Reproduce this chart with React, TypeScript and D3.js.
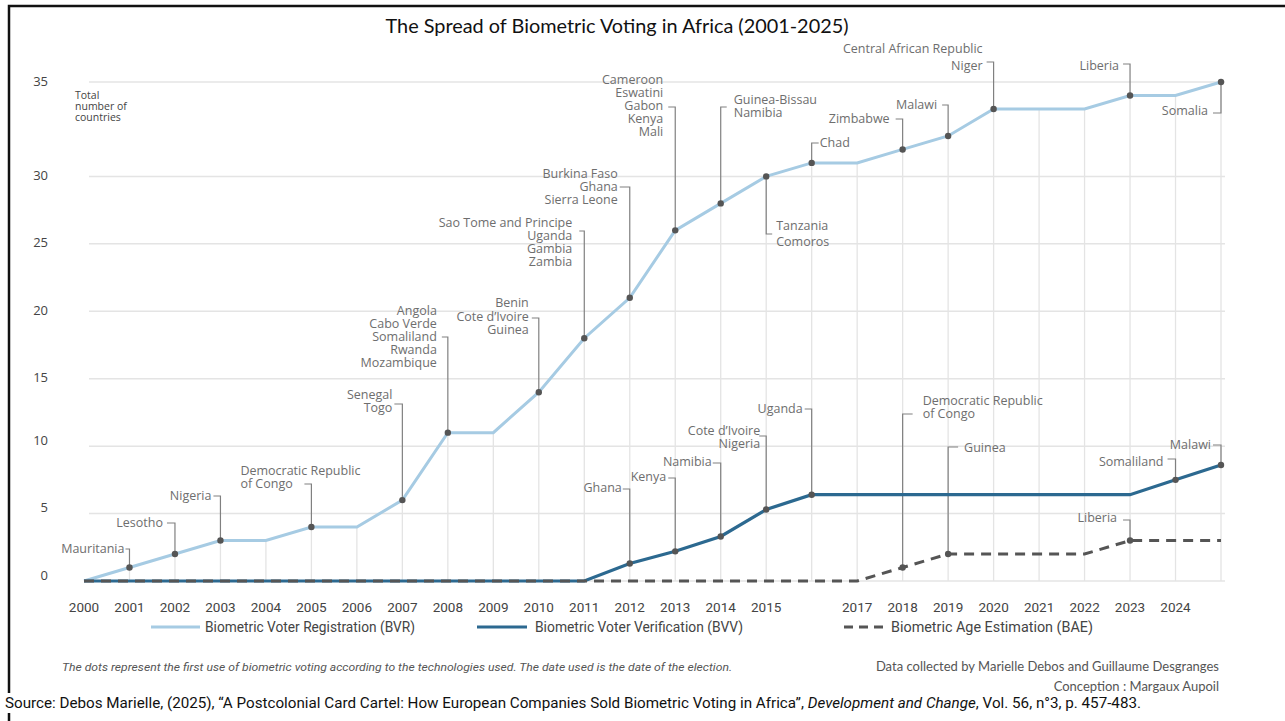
import React from 'react';
import * as d3 from 'd3';

// values
const years = [
  2000, 2001, 2002, 2003, 2004, 2005, 2006, 2007, 2008, 2009, 2010, 2011, 2012,
  2013, 2014, 2015, 2016, 2017, 2018, 2019, 2020, 2021, 2022, 2023, 2024, 2025,
];
const bvrCounts = [0, 1, 2, 3, 3, 4, 4, 6, 11, 11, 14, 18, 21, 26, 28, 30, 31, 31, 32, 33, 35, 35, 35, 36, 36, 37];
const bvvCounts = [0, 0, 0, 0, 0, 0, 0, 0, 0, 0, 0, 0, 1.3, 2.2, 3.3, 5.3, 6.4, 6.4, 6.4, 6.4, 6.4, 6.4, 6.4, 6.4, 7.5, 8.6];
const baeCounts = [0, 0, 0, 0, 0, 0, 0, 0, 0, 0, 0, 0, 0, 0, 0, 0, 0, 0, 1, 2, 2, 2, 2, 3, 3, 3];

const xTickYears = [2000, 2001, 2002, 2003, 2004, 2005, 2006, 2007, 2008, 2009, 2010, 2011, 2012, 2013, 2014, 2015, 2017, 2018, 2019, 2020, 2021, 2022, 2023, 2024];
const yTickValues = [0, 5, 10, 15, 20, 25, 30, 37];
const yTickLabels = ['0', '5', '10', '15', '20', '25', '30', '35'];

const bvrEvents: [number, string[]][] = [
  [2001, ['Mauritania']],
  [2002, ['Lesotho']],
  [2003, ['Nigeria']],
  [2005, ['Democratic Republic', 'of Congo']],
  [2007, ['Senegal', 'Togo']],
  [2008, ['Angola', 'Cabo Verde', 'Somaliland', 'Rwanda', 'Mozambique']],
  [2010, ['Benin', 'Cote d\u2019Ivoire', 'Guinea']],
  [2011, ['Sao Tome and Principe', 'Uganda', 'Gambia', 'Zambia']],
  [2012, ['Burkina Faso', 'Ghana', 'Sierra Leone']],
  [2013, ['Cameroon', 'Eswatini', 'Gabon', 'Kenya', 'Mali']],
  [2014, ['Guinea-Bissau', 'Namibia']],
  [2015, ['Tanzania', 'Comoros']],
  [2016, ['Chad']],
  [2018, ['Zimbabwe']],
  [2019, ['Malawi']],
  [2020, ['Central African Republic', 'Niger']],
  [2023, ['Liberia']],
  [2025, ['Somalia']],
];
const bvvEvents: [number, string[]][] = [
  [2012, ['Ghana']],
  [2013, ['Kenya']],
  [2014, ['Namibia']],
  [2015, ['Cote d\u2019Ivoire', 'Nigeria']],
  [2016, ['Uganda']],
  [2024, ['Somaliland']],
  [2025, ['Malawi']],
];
const baeEvents: [number, string[]][] = [
  [2018, ['Democratic Republic', 'of Congo']],
  [2019, ['Guinea']],
  [2023, ['Liberia']],
];

// callout placement: elbow y, bracket length, text offset + anchor, first line y, line height
type Place = { ey: number; hx: number; tx: number; ty: number; lh?: number; anchor?: 'start' | 'end' };
const placeBVR: Record<number, Place> = {
  2001: { ey: 549, hx: -4, tx: -5, ty: 549 },
  2002: { ey: 523, hx: -8, tx: -12, ty: 523 },
  2003: { ey: 496, hx: -7, tx: -9, ty: 496 },
  2005: { ey: 484, hx: -7, tx: -71, ty: 471, anchor: 'start' },
  2007: { ey: 404, hx: -8, tx: -10, ty: 395 },
  2008: { ey: 337, hx: -6, tx: -11, ty: 311, lh: 12.8 },
  2010: { ey: 318, hx: -7, tx: -10, ty: 303, lh: 13.5 },
  2011: { ey: 231, hx: -5, tx: -12, ty: 223 },
  2012: { ey: 187, hx: -10, tx: -12, ty: 174, lh: 12.8 },
  2013: { ey: 107, hx: -7, tx: -12, ty: 80 },
  2014: { ey: 107, hx: 6, tx: 13, ty: 100 },
  2015: { ey: 234, hx: 6, tx: 10, ty: 226, lh: 16 },
  2016: { ey: 143, hx: 7, tx: 8, ty: 143 },
  2018: { ey: 119, hx: -7, tx: -13, ty: 119 },
  2019: { ey: 105, hx: -6, tx: -11, ty: 105 },
  2020: { ey: 62, hx: -7, tx: -11, ty: 49, lh: 17 },
  2023: { ey: 64, hx: -7, tx: -11, ty: 66 },
  2025: { ey: 113, hx: -8, tx: -13, ty: 111 },
};
const placeBVV: Record<number, Place> = {
  2012: { ey: 489, hx: -7, tx: -8, ty: 488 },
  2013: { ey: 478, hx: -7, tx: -9, ty: 477 },
  2014: { ey: 463, hx: -8, tx: -9, ty: 462 },
  2015: { ey: 436, hx: -7, tx: -6, ty: 431, lh: 12.8 },
  2016: { ey: 409, hx: -7, tx: -9, ty: 409 },
  2024: { ey: 459, hx: -8, tx: -12, ty: 462 },
  2025: { ey: 445, hx: -8, tx: -10, ty: 445 },
};
const placeBAE: Record<number, Place> = {
  2018: { ey: 414, hx: 10, tx: 20, ty: 401, lh: 12.5 },
  2019: { ey: 447, hx: 10, tx: 16, ty: 448 },
  2023: { ey: 520, hx: -7, tx: -13, ty: 518 },
};

const W = 1285;
const H = 721;
const BVR_COLOR = '#a6cbe3';
const BVV_COLOR = '#2c6990';
const BAE_COLOR = '#555555';
const DOT_COLOR = '#555555';
const LABEL_FONT = "'Open Sans', 'Noto Sans', sans-serif";
const NARROW_FONT = "Roboto, 'Liberation Sans', sans-serif";

const x = d3.scaleLinear().domain([2000, 2025]).range([84, 1221]);
const y = d3.scaleLinear().domain([0, 37]).range([581, 82]);

const lineGen = d3
  .line<number>()
  .x((_, i) => x(years[i]))
  .y((d) => y(d));

function Callouts({ events, values, place }: { events: [number, string[]][]; values: number[]; place: Record<number, Place> }) {
  return (
    <g>
      {events.map(([yr, names]) => {
        const p = place[yr];
        const cx = x(yr);
        const cy = y(values[years.indexOf(yr)]);
        const lh = p.lh ?? 13;
        const anchor = p.anchor ?? (p.tx < 0 ? 'end' : 'start');
        return (
          <g key={yr}>
            <polyline
              points={`${cx},${cy} ${cx},${p.ey} ${cx + p.hx},${p.ey}`}
              fill="none"
              stroke="#808080"
              strokeWidth={1.2}
            />
            {names.map((n, i) => (
              <text
                key={n}
                x={cx + p.tx}
                y={p.ty + i * lh}
                dy="0.35em"
                textAnchor={anchor}
                fontFamily={LABEL_FONT}
                fontSize={12.5}
                fill="#6e6e6e"
              >
                {n}
              </text>
            ))}
          </g>
        );
      })}
    </g>
  );
}

function Dots({ events, values }: { events: [number, string[]][]; values: number[] }) {
  return (
    <g>
      {events.map(([yr]) => (
        <circle key={yr} cx={x(yr)} cy={y(values[years.indexOf(yr)])} r={3.2} fill={DOT_COLOR} />
      ))}
    </g>
  );
}

export default function App() {
  const [x0, x1] = x.range();
  return (
    <svg width={W} height={H} style={{ position: 'absolute', left: 0, top: 0, background: '#fff' }}>
      <rect x={0} y={0} width={W} height={H} fill="#fff" />
      <rect x={9} y={6} width={W + 20} height={H + 20} fill="none" stroke="#111" strokeWidth={2.5} />

      <text x={617} y={26} dy="0.35em" textAnchor="middle" fontFamily="Lato, 'Open Sans', sans-serif" fontSize={20} fill="#111" textLength={463} lengthAdjust="spacingAndGlyphs">
        The Spread of Biometric Voting in Africa (2001-2025)
      </text>

      {/* horizontal gridlines */}
      {yTickValues.map((v) => (
        <line key={v} x1={v === 0 ? x0 : x0 + 5} x2={x1 + 4} y1={y(v)} y2={y(v)} stroke="#e4e4e4" strokeWidth={1.5} />
      ))}
      {/* drop lines under the BVR curve */}
      {years.slice(1).map((yr, i) => (
        <line key={yr} x1={x(yr)} x2={x(yr)} y1={y(bvrCounts[i + 1])} y2={y(0)} stroke="#e4e4e4" strokeWidth={1.3} />
      ))}

      {/* y axis labels (the lower ones sit a little above their gridline) */}
      {yTickValues.map((v, i) => (
        <text key={v} x={48} y={y(v) - (v <= 10 ? 6 : 1)} dy="0.35em" textAnchor="end" fontFamily={LABEL_FONT} fontSize={13} fill="#444">
          {yTickLabels[i]}
        </text>
      ))}
      {['Total', 'number of', 'countries'].map((t, i) => (
        <text key={t} x={75} y={95 + i * 11} dy="0.35em" fontFamily={LABEL_FONT} fontSize={10.5} fill="#444">
          {t}
        </text>
      ))}

      {/* x axis labels */}
      {xTickYears.map((yr) => (
        <text key={yr} x={x(yr)} y={607} dy="0.35em" textAnchor="middle" fontFamily={NARROW_FONT} fontSize={13.5} fill="#444">
          {yr}
        </text>
      ))}

      <Callouts events={bvrEvents} values={bvrCounts} place={placeBVR} />
      <Callouts events={bvvEvents} values={bvvCounts} place={placeBVV} />
      <Callouts events={baeEvents} values={baeCounts} place={placeBAE} />

      <path d={lineGen(bvrCounts) ?? ''} fill="none" stroke={BVR_COLOR} strokeWidth={3} />
      <path d={lineGen(bvvCounts) ?? ''} fill="none" stroke={BVV_COLOR} strokeWidth={3.2} />
      <path d={lineGen(baeCounts) ?? ''} fill="none" stroke={BAE_COLOR} strokeWidth={3} strokeDasharray="10,7" />

      <Dots events={bvrEvents} values={bvrCounts} />
      <Dots events={bvvEvents} values={bvvCounts} />
      <Dots events={baeEvents} values={baeCounts} />

      {/* legend */}
      <line x1={151} x2={200} y1={627} y2={627} stroke={BVR_COLOR} strokeWidth={3} />
      <text x={205} y={627} dy="0.35em" fontFamily={NARROW_FONT} fontSize={14} fill="#444" textLength={210} lengthAdjust="spacingAndGlyphs">
        Biometric Voter Registration (BVR)
      </text>
      <line x1={477} x2={527} y1={627} y2={627} stroke={BVV_COLOR} strokeWidth={3.2} />
      <text x={535} y={627} dy="0.35em" fontFamily={NARROW_FONT} fontSize={14} fill="#444" textLength={208} lengthAdjust="spacingAndGlyphs">
        Biometric Voter Verification (BVV)
      </text>
      <line x1={844} x2={886} y1={627} y2={627} stroke={BAE_COLOR} strokeWidth={3} strokeDasharray="9,6" />
      <text x={891} y={627} dy="0.35em" fontFamily={NARROW_FONT} fontSize={14} fill="#444" textLength={202} lengthAdjust="spacingAndGlyphs">
        Biometric Age Estimation (BAE)
      </text>

      {/* notes */}
      <text x={62} y={667} dy="0.35em" fontFamily={NARROW_FONT} fontStyle="italic" fontSize={11.5} fill="#555" textLength={670} lengthAdjust="spacingAndGlyphs">
        The dots represent the first use of biometric voting according to the technologies used. The date used is the date of the election.
      </text>
      <text x={1219} y={666} dy="0.35em" textAnchor="end" fontFamily="Lato, sans-serif" fontSize={13} fill="#555">
        Data collected by Marielle Debos and Guillaume Desgranges
      </text>
      <text x={1219} y={686} dy="0.35em" textAnchor="end" fontFamily="Lato, sans-serif" fontSize={13} fill="#555">
        Conception : Margaux Aupoil
      </text>
      <rect x={0} y={693} width={1150} height={20} fill="#fff" />
      <text x={5} y={703} dy="0.35em" fontFamily={NARROW_FONT} fontSize={15} fill="#111" textLength={1136} lengthAdjust="spacingAndGlyphs">
        Source: Debos Marielle, (2025), {'\u201c'}A Postcolonial Card Cartel: How European Companies Sold Biometric Voting in Africa{'\u201d'},{' '}
        <tspan fontStyle="italic">Development and Change</tspan>, Vol. 56, n°3, p. 457-483.
      </text>
    </svg>
  );
}
